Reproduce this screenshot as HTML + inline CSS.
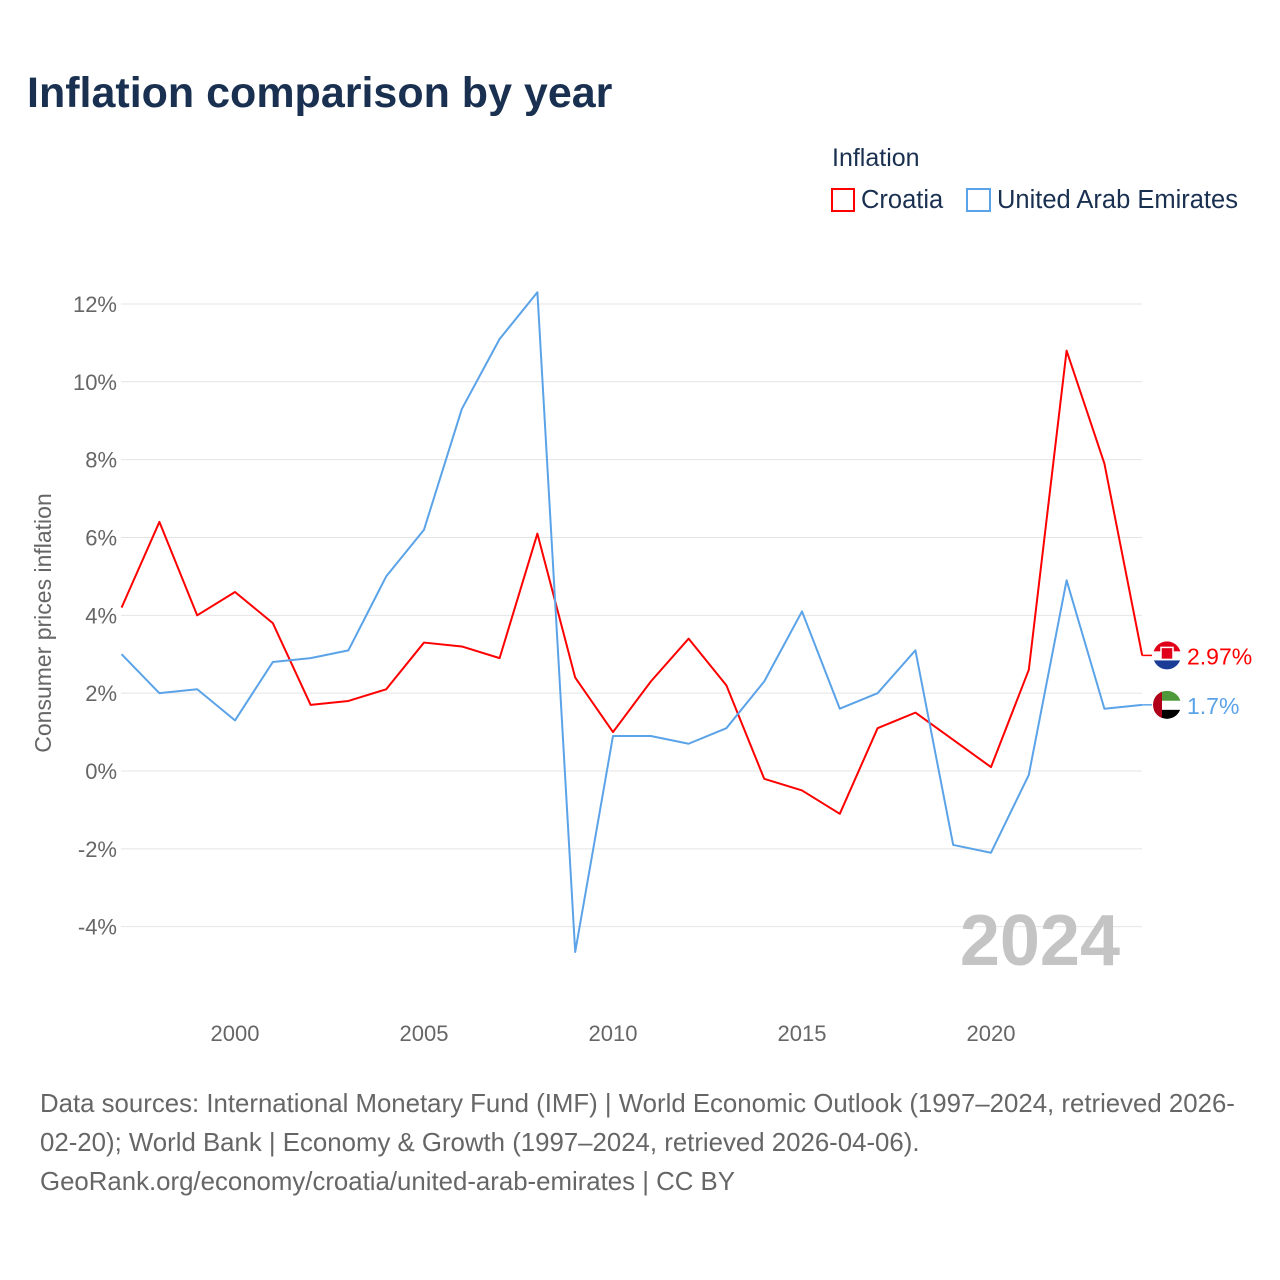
<!DOCTYPE html>
<html><head><meta charset="utf-8"><style>
body{margin:0;background:#fff;font-family:"Liberation Sans",sans-serif}
#wrap{position:relative;width:1280px;height:1280px;overflow:hidden}
.t{position:absolute;white-space:nowrap}
</style></head><body>
<div id="wrap">
<div class="t" style="left:27px;top:69px;font-size:43px;font-weight:bold;color:#1a3050">Inflation comparison by year</div>
<div class="t" style="left:832px;top:144px;font-size:25px;color:#1a3050">Inflation</div>
<div class="t" style="left:831px;top:186px;font-size:25.5px;color:#1a3050"><span style="display:inline-block;width:24px;height:24px;border:2px solid #f00;vertical-align:-4px;margin-right:6px;box-sizing:border-box"></span>Croatia</div>
<div class="t" style="left:966px;top:186px;font-size:25.5px;color:#1a3050"><span style="display:inline-block;width:25px;height:24px;border:2px solid #5ba3e8;vertical-align:-4px;margin-right:6px;box-sizing:border-box"></span>United Arab Emirates</div>
<svg id="chart" width="1280" height="1280" style="position:absolute;left:0;top:0"></svg>
<div class="t" style="left:40px;top:1085px;font-size:25.8px;line-height:39px;color:#666">Data sources: International Monetary Fund (IMF) | World Economic Outlook (1997–2024, retrieved 2026-<br>02-20); World Bank | Economy &amp; Growth (1997–2024, retrieved 2026-04-06).<br>GeoRank.org/economy/croatia/united-arab-emirates | CC BY</div>
</div>
<script>
const years=[1997,1998,1999,2000,2001,2002,2003,2004,2005,2006,2007,2008,2009,2010,2011,2012,2013,2014,2015,2016,2017,2018,2019,2020,2021,2022,2023,2024];
const croatia=[4.2,6.4,4.0,4.6,3.8,1.7,1.8,2.1,3.3,3.2,2.9,6.1,2.4,1.0,2.3,3.4,2.2,-0.2,-0.5,-1.1,1.1,1.5,0.8,0.1,2.6,10.8,7.9,2.97];
const uae=[3.0,2.0,2.1,1.3,2.8,2.9,3.1,5.0,6.2,9.3,11.1,12.3,-4.65,0.9,0.9,0.7,1.1,2.3,4.1,1.6,2.0,3.1,-1.9,-2.1,-0.1,4.9,1.6,1.7];
const yTicks=[-4,-2,0,2,4,6,8,10,12];
const xTicks=[2000,2005,2010,2015,2020];
const NS="http://www.w3.org/2000/svg";
const svg=document.getElementById('chart');
const x=v=>121.6+(v-1997)*37.8;
const y=v=>771-v*38.92;
function mk(tag,attrs,parent){const e=document.createElementNS(NS,tag);for(const k in attrs)e.setAttribute(k,attrs[k]);(parent||svg).appendChild(e);return e;}
yTicks.forEach(t=>{
  const l=mk('line',{x1:121,x2:1142,y1:y(t),y2:y(t),stroke:'#e4e4e4','stroke-width':1});
  
  
  const tx=mk('text',{x:117,y:y(t)+8,'text-anchor':'end','font-size':22,fill:'#666','font-family':'Liberation Sans'});
  tx.textContent=t+'%';
  
  
});
xTicks.forEach(t=>{
  const tx=mk('text',{x:x(t),y:1041,'text-anchor':'middle','font-size':22,fill:'#666','font-family':'Liberation Sans'});
  tx.textContent=t;
  
  
});
const yt=mk('text',{x:0,y:0,transform:'translate(51,623) rotate(-90)','text-anchor':'middle','font-size':23,fill:'#666','font-family':'Liberation Sans'});
yt.textContent='Consumer prices inflation';


const yr=mk('text',{x:1120,y:965,'text-anchor':'end','font-size':72,'font-weight':'bold',fill:'#c4c4c4','font-family':'Liberation Sans'});
yr.textContent='2024';


function series(vals,color,name){
  const pts=vals.map((v,i)=>x(years[i])+','+y(v)).join(' ');
  const p=mk('polyline',{points:pts,fill:'none',stroke:color,'stroke-width':2,'stroke-linejoin':'round'});
  
  
  const last=vals[vals.length-1];
  const e=mk('line',{x1:x(years[years.length-1]),x2:1152,y1:y(last),y2:y(last),stroke:color,'stroke-width':1.5});
  
  
  return last;
}
const cl=series(croatia,'#ff0000','croatia');
const ul=series(uae,'#5ba3e8','uae');
const cy=y(cl),uy=y(ul);
const g1=mk('g',{});


mk('clipPath',{id:'c1'},g1);
mk('circle',{cx:1167,cy:cy,r:14},g1.lastChild);
const gc=mk('g',{'clip-path':'url(#c1)'},g1);
mk('rect',{x:1153,y:cy-14,width:28,height:10,fill:'#e0001a'},gc);
mk('rect',{x:1153,y:cy-4,width:28,height:9,fill:'#fff'},gc);
mk('rect',{x:1153,y:cy+5,width:28,height:10,fill:'#1a3c96'},gc);
mk('rect',{x:1161,y:cy-8,width:12,height:12,fill:'#e0001a',stroke:'#fff','stroke-width':1.5},gc);
const g2=mk('g',{});


mk('clipPath',{id:'c2'},g2);
mk('circle',{cx:1167,cy:uy,r:14},g2.lastChild);
const gu=mk('g',{'clip-path':'url(#c2)'},g2);
mk('rect',{x:1153,y:uy-14,width:28,height:10,fill:'#4e9a3a'},gu);
mk('rect',{x:1153,y:uy-4,width:28,height:9,fill:'#fff'},gu);
mk('rect',{x:1153,y:uy+5,width:28,height:10,fill:'#000'},gu);
mk('rect',{x:1153,y:uy-14,width:9,height:28,fill:'#b0001a'},gu);
const l1=mk('text',{x:1187,y:cy+9,'font-size':23,fill:'#ff0000','font-family':'Liberation Sans'});
l1.textContent=cl+'%';


const l2=mk('text',{x:1187,y:uy+9,'font-size':23,fill:'#5ba3e8','font-family':'Liberation Sans'});
l2.textContent=ul+'%';


</script>
</body></html>
